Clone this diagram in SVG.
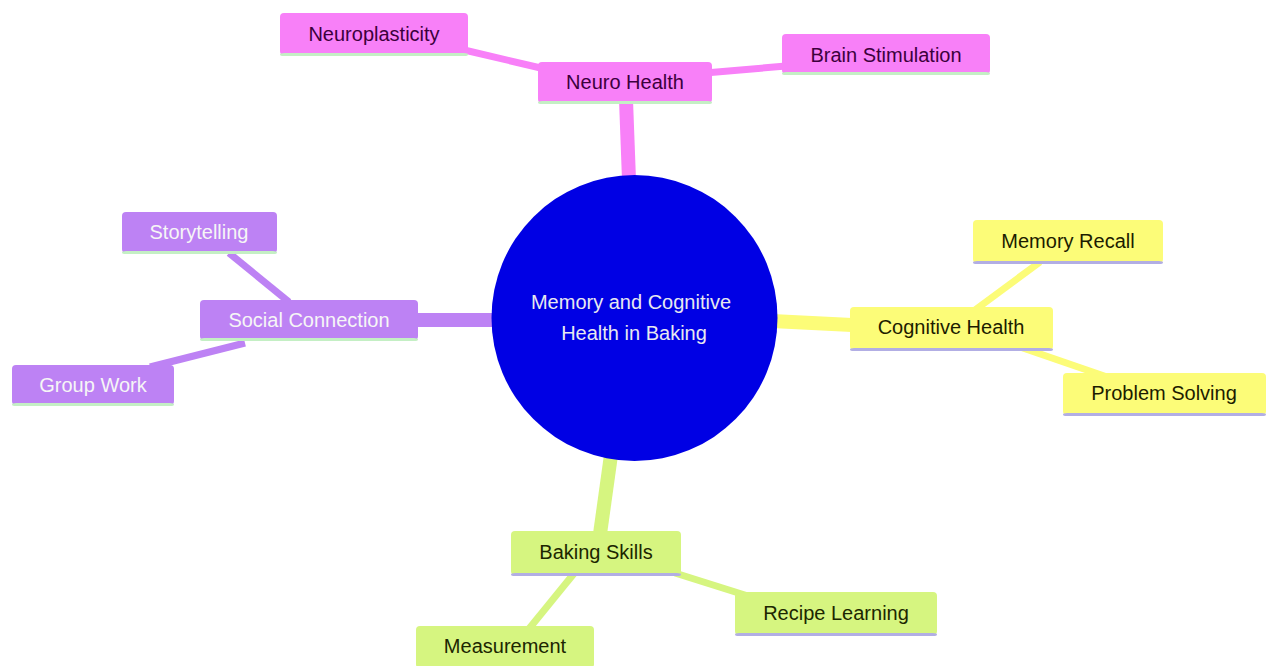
<svg xmlns="http://www.w3.org/2000/svg" width="1266" height="666" viewBox="0 0 1266 666">
<style>
text{font-family:"Liberation Sans",Arial,sans-serif;font-size:20px;text-anchor:middle}
.e1{stroke-width:14;fill:none}
.e2{stroke-width:7;fill:none}
.pk{stroke:#f880f8}.pu{stroke:#bd82f4}.ye{stroke:#fcfc78}.gr{stroke:#d6f580}
rect{rx:4;ry:4}
.fpk{fill:#f880f8}.fpu{fill:#bd82f4}.fye{fill:#fcfc78}.fgr{fill:#d6f580}
.tpk{fill:#3c003c}.tpu{fill:#f6f6f6}.tye{fill:#1c1c00}.tgr{fill:#1c2600}
.lg{fill:#c4efc4}.lv{fill:#b2aee4}
</style>
<rect x="0" y="0" width="1266" height="666" fill="#ffffff"/>
<g id="connectors" stroke-linecap="butt">
<line class="e1 pk" x1="626" y1="100" x2="629" y2="180"/>
<line class="e1 pu" x1="415" y1="320" x2="496" y2="320"/>
<line class="e1 ye" x1="772" y1="321" x2="852" y2="325"/>
<line class="e1 gr" x1="611" y1="455" x2="600" y2="534"/>
<line class="e2 pk" x1="460" y1="49" x2="545" y2="69"/>
<line class="e2 pk" x1="705" y1="73" x2="786" y2="66"/>
<line class="e2 pu" x1="229" y1="253" x2="289" y2="302"/>
<line class="e2 pu" x1="150" y1="367" x2="245" y2="343"/>
<line class="e2 ye" x1="1040" y1="262" x2="975" y2="310"/>
<line class="e2 ye" x1="1020" y1="347" x2="1110" y2="378"/>
<line class="e2 gr" x1="576" y1="571" x2="528" y2="630"/>
<line class="e2 gr" x1="675" y1="573" x2="748" y2="596"/>
</g>
<g id="root">
<circle cx="634.5" cy="318" r="143" fill="#0000e4"/>
<text x="631" y="309" fill="#e8e8f0">Memory and Cognitive</text>
<text x="634" y="340" fill="#e8e8f0">Health in Baking</text>
</g>
<g id="neuro-health">
<rect class="fpk" x="538" y="62" width="174" height="41"/>
<rect class="lg" x="538" y="101" width="174" height="3"/>
<text class="tpk" x="625" y="89">Neuro Health</text>
</g>
<g id="neuroplasticity">
<rect class="fpk" x="280" y="13" width="188" height="42"/>
<rect class="lg" x="280" y="53" width="188" height="3"/>
<text class="tpk" x="374" y="41">Neuroplasticity</text>
</g>
<g id="brain-stimulation">
<rect class="fpk" x="782" y="34" width="208" height="40"/>
<rect class="lg" x="782" y="72" width="208" height="3"/>
<text class="tpk" x="886" y="62">Brain Stimulation</text>
</g>
<g id="social-connection">
<rect class="fpu" x="200" y="300" width="218" height="40"/>
<rect class="lg" x="200" y="338" width="218" height="3"/>
<text class="tpu" x="309" y="327">Social Connection</text>
</g>
<g id="storytelling">
<rect class="fpu" x="122" y="212" width="155" height="41"/>
<rect class="lg" x="122" y="251" width="155" height="3"/>
<text class="tpu" x="199" y="239">Storytelling</text>
</g>
<g id="group-work">
<rect class="fpu" x="12" y="365" width="162" height="40"/>
<rect class="lg" x="12" y="403" width="162" height="3"/>
<text class="tpu" x="93" y="392">Group Work</text>
</g>
<g id="cognitive-health">
<rect class="fye" x="850" y="307" width="203" height="43"/>
<rect class="lv" x="850" y="348" width="203" height="3"/>
<text class="tye" x="951" y="334">Cognitive Health</text>
</g>
<g id="memory-recall">
<rect class="fye" x="973" y="220" width="190" height="43"/>
<rect class="lv" x="973" y="261" width="190" height="3"/>
<text class="tye" x="1068" y="248">Memory Recall</text>
</g>
<g id="problem-solving">
<rect class="fye" x="1063" y="373" width="203" height="42"/>
<rect class="lv" x="1063" y="413" width="203" height="3"/>
<text class="tye" x="1164" y="400">Problem Solving</text>
</g>
<g id="baking-skills">
<rect class="fgr" x="511" y="531" width="170" height="44"/>
<rect class="lv" x="511" y="573" width="170" height="3"/>
<text class="tgr" x="596" y="559">Baking Skills</text>
</g>
<g id="recipe-learning">
<rect class="fgr" x="735" y="592" width="202" height="43"/>
<rect class="lv" x="735" y="633" width="202" height="3"/>
<text class="tgr" x="836" y="620">Recipe Learning</text>
</g>
<g id="measurement">
<rect class="fgr" x="416" y="626" width="178" height="42"/>
<text class="tgr" x="505" y="653">Measurement</text>
</g>
</svg>
